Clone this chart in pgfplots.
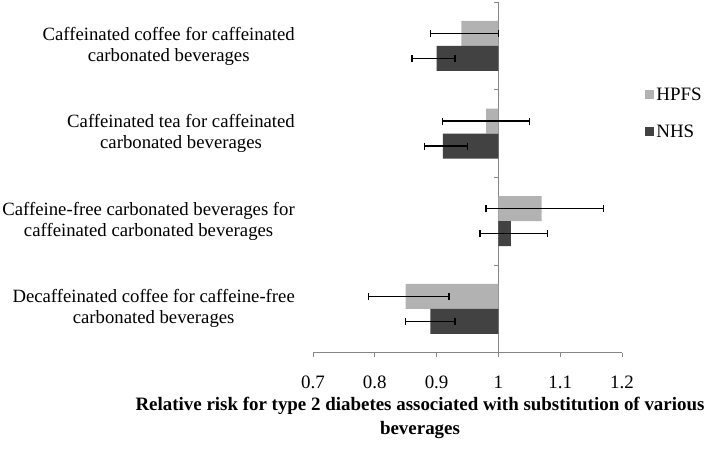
\documentclass[border=0pt]{standalone}
\usepackage{fontspec}
\setmainfont{Liberation Serif}
\usepackage{pgfplots}
\pgfplotsset{compat=1.18}
\usepackage{pgfplotstable}

\definecolor{hpfs}{RGB}{178,178,178}
\definecolor{nhs}{RGB}{66,66,66}
\definecolor{axisgray}{RGB}{134,134,134}

% relative risk, lower and upper 95% CI
\pgfplotstableread{
y rr lo hi
3 0.94 0.89 1.00
2 0.98 0.91 1.05
1 1.07 0.98 1.17
0 0.85 0.79 0.92
}\hpfstab
\pgfplotstableread{
y rr lo hi
3 0.90 0.86 0.93
2 0.91 0.88 0.95
1 1.02 0.97 1.08
0 0.89 0.85 0.93
}\nhstab

\begin{document}
\begin{tikzpicture}
\useasboundingbox (0,0) rectangle (711bp,449bp);
\begin{axis}[
  at={(313bp,96.3bp)}, anchor=south west,
  scale only axis, width=309bp, height=350.7bp,
  xmin=-0.3, xmax=0.2, ymin=-0.5, ymax=3.5,
  axis x line*=bottom, axis y line*=middle,
  xtick={-0.3,-0.2,-0.1,0,0.1,0.2},
  xticklabels={0.7,0.8,0.9,1,1.1,1.2},
  ytick=\empty,
  tick align=outside, major tick length=4.5bp,
  axis line style={draw=axisgray, line width=0.9bp},
  tick style={draw=axisgray, line width=0.9bp},
  /pgf/number format/assume math mode=true,
  ticklabel style={font=\fontsize{19}{22}\selectfont, text=black},
  xticklabel style={yshift=-15bp},
  xbar, bar width=25bp,
  clip=false,
  legend style={at={(rel axis cs:1.075,0.762)}, anchor=north west, draw=none, fill=none,
    font=\fontsize{19}{22}\selectfont, row sep=19bp, inner sep=0pt},
  legend cell align=left,
  legend image code/.code={\fill[#1] (0bp,-4.5bp) rectangle (9bp,4.5bp);},
]
\addplot[fill=hpfs, draw=none, bar shift=12.5bp,
  error bars/.cd, x dir=both, x explicit,
  error bar style={black, line width=1.3bp},
  error mark options={black, rotate=90, mark size=3.5bp, line width=1.3bp}]
  table[y=y, x expr=\thisrow{rr}-1,
        x error minus expr=\thisrow{rr}-\thisrow{lo},
        x error plus expr=\thisrow{hi}-\thisrow{rr}] {\hpfstab};
\addlegendentry{HPFS}
\addplot[fill=nhs, draw=none, bar shift=-12.5bp,
  error bars/.cd, x dir=both, x explicit,
  error bar style={black, line width=1.3bp},
  error mark options={black, rotate=90, mark size=3.5bp, line width=1.3bp}]
  table[y=y, x expr=\thisrow{rr}-1,
        x error minus expr=\thisrow{rr}-\thisrow{lo},
        x error plus expr=\thisrow{hi}-\thisrow{rr}] {\nhstab};
\addlegendentry{NHS}
% category separator ticks on the vertical axis at RR = 1
\pgfplotsinvokeforeach{0.5,1.5,2.5,3.5}{
  \draw[axisgray, line width=0.9bp] (axis cs:0,#1) -- ([xshift=-4.5bp]axis cs:0,#1);
}
\end{axis}
\begin{scope}[every node/.style={anchor=east, align=center, inner sep=0pt, font=\fontsize{18.8}{21}\selectfont}]
\node at (295bp,403bp) {Caffeinated coffee for caffeinated\\carbonated beverages};
\node at (295bp,315.4bp) {Caffeinated tea for caffeinated\\carbonated beverages};
\node at (295bp,228bp) {Caffeine-free carbonated beverages for\\caffeinated carbonated beverages};
\node at (295bp,140.3bp) {Decaffeinated coffee for caffeine-free\\carbonated beverages};
\end{scope}
\node[align=center, font=\bfseries\fontsize{19}{24}\selectfont] at (420bp,31bp)
  {Relative risk for type 2 diabetes associated with substitution of various\\beverages};
\end{tikzpicture}
\end{document}
